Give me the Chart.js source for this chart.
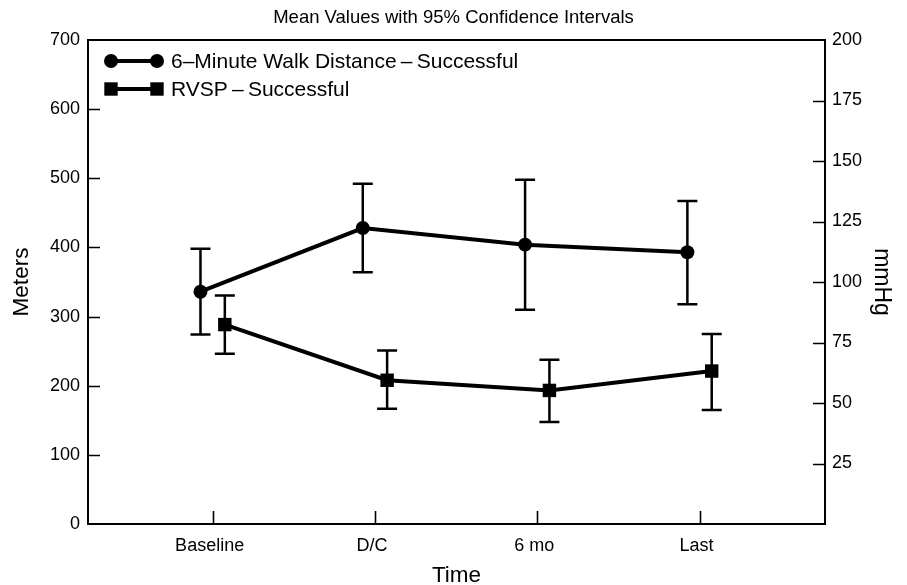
<!doctype html>
<html lang="en">
  <head>
    <meta charset="utf-8">
    <style>
      * { margin: 0; padding: 0; }
      body { background: #fff; }
      .chartBox { width: 907px; height: 585px; position: relative; }
    </style>
  </head>
  <body>
    <div class="chartBox">
      <canvas id="myChart"></canvas>
    </div>
    <script src="https://cdn.jsdelivr.net/npm/chart.js/dist/chart.umd.min.js"></script>
    <script>
    // data
    const categories = ['Baseline', 'D/C', '6 mo', 'Last'];
    const walkMean = [336, 428, 404, 393];
    const walkLow = [274, 364, 310, 318];
    const walkHigh = [398, 492, 498, 467];
    const rvspMean = [82.4, 59.4, 55.2, 63.2];
    const rvspLow = [70.4, 47.6, 42.2, 47.1];
    const rvspHigh = [94.4, 71.7, 67.9, 78.5];
    const walkShift = -0.075;
    const rvspShift = 0.075;
    const leftTicks = [100, 200, 300, 400, 500, 600];
    const rightTicks = [25, 50, 75, 100, 125, 150, 175];

    const FONT = '"Liberation Sans", Arial, sans-serif';

    const walkPts = walkMean.map((v, i) => ({ x: i + 1 + walkShift, y: v }));
    const rvspPts = rvspMean.map((v, i) => ({ x: i + 1 + rvspShift, y: v }));

    // frame, inward ticks, error bars, legend
    const decor = {
      id: 'decor',
      beforeDatasetsDraw(chart) {
        const { ctx, chartArea: { top, bottom, left, right }, scales: { x, y, y1 } } = chart;
        ctx.save();
        ctx.strokeStyle = '#000';

        // error bars
        ctx.lineWidth = 2.5;
        const bars = (means, lows, highs, shift, scale) => {
          means.forEach((m, i) => {
            const px = x.getPixelForValue(i + 1 + shift);
            const lo = scale.getPixelForValue(lows[i]);
            const hi = scale.getPixelForValue(highs[i]);
            ctx.beginPath();
            ctx.moveTo(px, lo); ctx.lineTo(px, hi);
            ctx.moveTo(px - 10, lo); ctx.lineTo(px + 10, lo);
            ctx.moveTo(px - 10, hi); ctx.lineTo(px + 10, hi);
            ctx.stroke();
          });
        };
        bars(walkMean, walkLow, walkHigh, walkShift, y);
        bars(rvspMean, rvspLow, rvspHigh, rvspShift, y1);

        // frame
        ctx.lineWidth = 2;
        ctx.strokeRect(left, top, right - left, bottom - top);

        // inward ticks
        ctx.beginPath();
        leftTicks.forEach(v => {
          const py = Math.round(y.getPixelForValue(v)) + 0.5;
          ctx.moveTo(left, py); ctx.lineTo(left + 12, py);
        });
        rightTicks.forEach(v => {
          const py = Math.round(y1.getPixelForValue(v)) + 0.5;
          ctx.moveTo(right, py); ctx.lineTo(right - 12, py);
        });
        categories.forEach((c, i) => {
          const px = Math.round(x.getPixelForValue(i + 1)) + 0.5;
          ctx.moveTo(px, bottom); ctx.lineTo(px, bottom - 13);
        });
        ctx.lineWidth = 1.6;
        ctx.stroke();
        ctx.restore();
      },
      afterDatasetsDraw(chart) {
        const { ctx, chartArea: { left } } = chart;
        ctx.save();
        const x0 = left + 23, x1 = left + 69;
        const rows = [
          { label: '6\u2013Minute Walk Distance\u2009\u2013\u2009Successful', y: 61, shape: 'circle' },
          { label: 'RVSP\u2009\u2013\u2009Successful', y: 89, shape: 'rect' }
        ];
        rows.forEach(r => {
          ctx.strokeStyle = '#000';
          ctx.fillStyle = '#000';
          ctx.lineWidth = 4;
          ctx.beginPath();
          ctx.moveTo(x0, r.y); ctx.lineTo(x1, r.y);
          ctx.stroke();
          [x0, x1].forEach(px => {
            ctx.beginPath();
            if (r.shape === 'circle') ctx.arc(px, r.y, 7, 0, Math.PI * 2);
            else ctx.rect(px - 6.7, r.y - 6.7, 13.4, 13.4);
            ctx.fill();
          });
          ctx.font = '21px ' + FONT;
          ctx.textAlign = 'left';
          ctx.textBaseline = 'middle';
          ctx.fillText(r.label, x1 + 14, r.y + 1);
        });
        ctx.restore();
      }
    };

    const config = {
      type: 'line',
      data: {
        datasets: [{
          label: '6-Minute Walk Distance - Successful',
          data: walkPts,
          yAxisID: 'y',
          borderColor: '#000',
          backgroundColor: '#000',
          borderWidth: 4,
          pointStyle: 'circle',
          pointRadius: 7,
          pointBorderWidth: 0,
          tension: 0
        }, {
          label: 'RVSP - Successful',
          data: rvspPts,
          yAxisID: 'y1',
          borderColor: '#000',
          backgroundColor: '#000',
          borderWidth: 4,
          pointStyle: 'rect',
          pointRadius: 9.5,
          pointBorderWidth: 0,
          tension: 0
        }]
      },
      options: {
        responsive: true,
        maintainAspectRatio: false,
        animation: false,
        layout: { padding: 0 },
        scales: {
          x: {
            type: 'linear',
            min: 0.232,
            max: 4.773,
            afterBuildTicks: s => { s.ticks = categories.map((c, i) => ({ value: i + 1 })); },
            afterFit: s => { s.height = 61; },
            grid: { display: false, drawTicks: false },
            border: { display: false },
            ticks: {
              color: '#000',
              font: { family: FONT, size: 18 },
              padding: 11,
              labelOffset: -3,
              autoSkip: false,
              maxRotation: 0,
              callback: v => categories[v - 1]
            },
            title: {
              display: true,
              text: 'Time',
              color: '#000',
              font: { family: FONT, size: 22.5 },
              padding: { top: 0, bottom: -4 }
            }
          },
          y: {
            position: 'left',
            min: 0,
            max: 700,
            afterFit: s => { s.width = 88; },
            grid: { display: false, drawTicks: false },
            border: { display: false },
            ticks: {
              stepSize: 100,
              color: '#000',
              font: { family: FONT, size: 18 },
              padding: 8
            },
            title: {
              display: true,
              text: 'Meters',
              color: '#000',
              font: { family: FONT, size: 22.5 },
              padding: { top: 8, bottom: 0 }
            }
          },
          y1: {
            position: 'right',
            min: 0,
            max: 200,
            afterFit: s => { s.width = 82; },
            grid: { display: false, drawTicks: false },
            border: { display: false },
            ticks: {
              stepSize: 25,
              color: '#000',
              font: { family: FONT, size: 18 },
              padding: 7,
              callback: v => (v === 0 ? '' : v)
            },
            title: {
              display: true,
              text: 'mmHg',
              color: '#000',
              font: { family: FONT, size: 23 },
              padding: { top: 12, bottom: 0 }
            }
          }
        },
        plugins: {
          legend: { display: false },
          tooltip: { enabled: false },
          title: {
            display: true,
            text: 'Mean Values with 95% Confidence Intervals',
            color: '#000',
            font: { family: FONT, size: 18.5, weight: 'normal' },
            padding: { top: 7, bottom: 10.8 }
          }
        }
      },
      plugins: [decor]
    };

    const myChart = new Chart(document.getElementById('myChart'), config);
    </script>
  </body>
</html>
